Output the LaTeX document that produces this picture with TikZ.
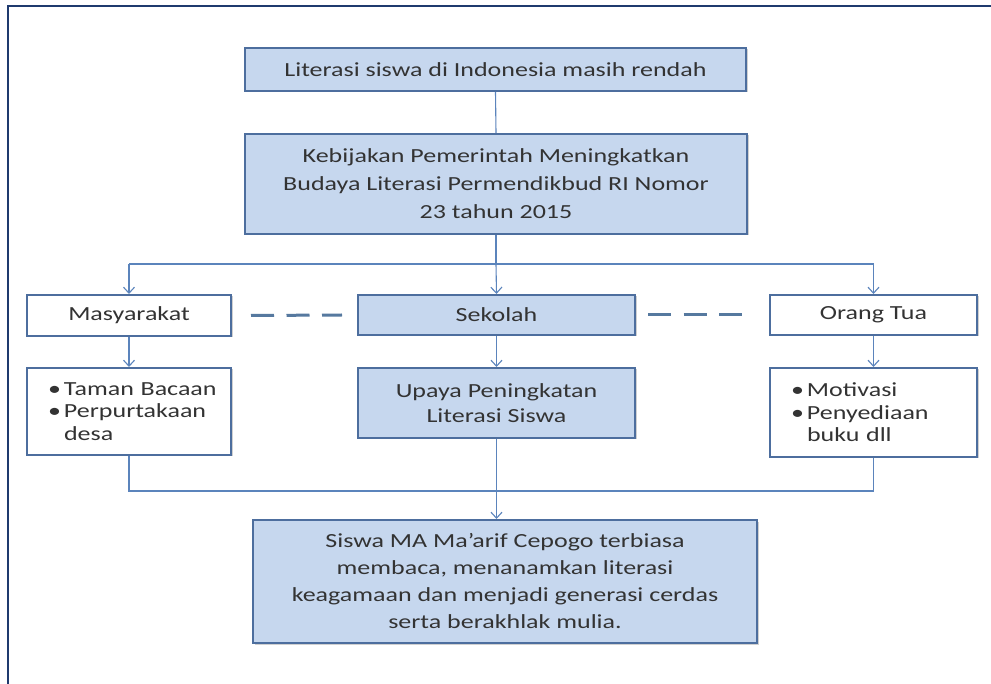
\documentclass[tikz,border=0pt]{standalone}
\usepackage{fontspec}
\setmainfont{Carlito}[FakeStretch=1.3]
\usetikzlibrary{arrows.meta,shadows,calc}
\definecolor{boxline}{HTML}{4D6E9E}
\definecolor{boxfill}{HTML}{C6D7EE}
\definecolor{connc}{HTML}{5B84BC}
\definecolor{framec}{HTML}{1F3A6E}
\definecolor{txt}{HTML}{333333}
\definecolor{dashc}{HTML}{56799F}
\begin{document}
\begin{tikzpicture}[x=1pt,y=-1pt,
  box/.style={draw=boxline, line width=2pt, text=txt, inner sep=0pt, align=center,
    font=\fontsize{20pt}{28pt}\selectfont,
    drop shadow={shadow xshift=1.5pt,shadow yshift=-1.5pt,fill=black!30,opacity=0.6}},
  bluebox/.style={box, fill=boxfill},
  whitebox/.style={box, fill=white},
  listbox/.style={whitebox, align=left, font=\fontsize{20pt}{22.5pt}\selectfont, inner xsep=21pt},
  link/.style={draw=connc, line width=1.1pt},
  arr/.style={link, -{Straight Barb[length=6pt,width=11pt]}},
  dashln/.style={draw=dashc, line width=3pt, dash pattern=on 23pt off 12.5pt}
]
\fill[white] (0,0) rectangle (991,684);
\useasboundingbox (0,0) rectangle (991,684);
\draw[framec, line width=2.5pt] (8,684) -- (8,6) -- (991,6);

\node[bluebox, minimum width=501, minimum height=43] (lit) at (495.5,69.5) {Literasi siswa di Indonesia masih rendah};
\node[bluebox, minimum width=502, minimum height=100] (keb) at (496,184) {Kebijakan Pemerintah Meningkatkan\\Budaya Literasi Permendikbud RI Nomor\\23 tahun 2015};
\node[whitebox, minimum width=204, minimum height=41] (mas) at (129,315.5) {Masyarakat};
\node[bluebox, minimum width=277, minimum height=40] (sek) at (496.5,315) {Sekolah};
\node[whitebox, minimum width=207, minimum height=40] (ort) at (873.5,315) {Orang Tua};
\node[listbox, text width=162, minimum height=87] (tam) at (129,411.5) {\mbox{\makebox[16pt][l]{•}Taman Bacaan}\\\mbox{\makebox[16pt][l]{•}Perpurtakaan}\\\mbox{\hspace*{16pt}desa}};
\node[bluebox, minimum width=277, minimum height=70, font=\fontsize{20pt}{25pt}\selectfont] (upa) at (496.5,403) {Upaya Peningkatan\\Literasi Siswa};
\node[listbox, text width=165, minimum height=89] (mot) at (873.5,412.5) {\mbox{\makebox[16pt][l]{•}Motivasi}\\\mbox{\makebox[16pt][l]{•}Penyediaan}\\\mbox{\hspace*{16pt}buku dll}};
\node[bluebox, minimum width=504, minimum height=123, font=\fontsize{20pt}{27pt}\selectfont] (fin) at (505,581.5) {Siswa MA Ma’arif Cepogo terbiasa\\membaca, menanamkan literasi\\keagamaan dan menjadi generasi cerdas\\serta berakhlak mulia.};

\draw[link] (lit.south) -- (keb.north);
\coordinate (br) at ($(keb.south)+(0,29)$);
\draw[link] (keb.south) -- (br);
\draw[link] (br -| mas.north) -- (br -| ort.north);
\draw[arr] (br -| mas.north) -- (mas.north);
\draw[arr] (br) -- (sek.north);
\draw[arr] (br -| ort.north) -- (ort.north);
\draw[arr] (mas.south) -- (tam.north);
\draw[arr] (sek.south) -- (upa.north);
\draw[arr] (ort.south) -- (mot.north);
\coordinate (mg) at ($(tam.south)+(0,35)$);
\draw[link] (tam.south) -- (mg) -- (mg -| mot.south) -- (mot.south);
\draw[arr] (upa.south) -- (upa.south |- fin.north);

\draw[dashln] ($(mas.east)+(19,0)$) -- ($(sek.west)+(-15,0)$);
\draw[dashln] ($(sek.east)+(12,0)$) -- ($(ort.west)+(-25,0)$);
\end{tikzpicture}
\end{document}
